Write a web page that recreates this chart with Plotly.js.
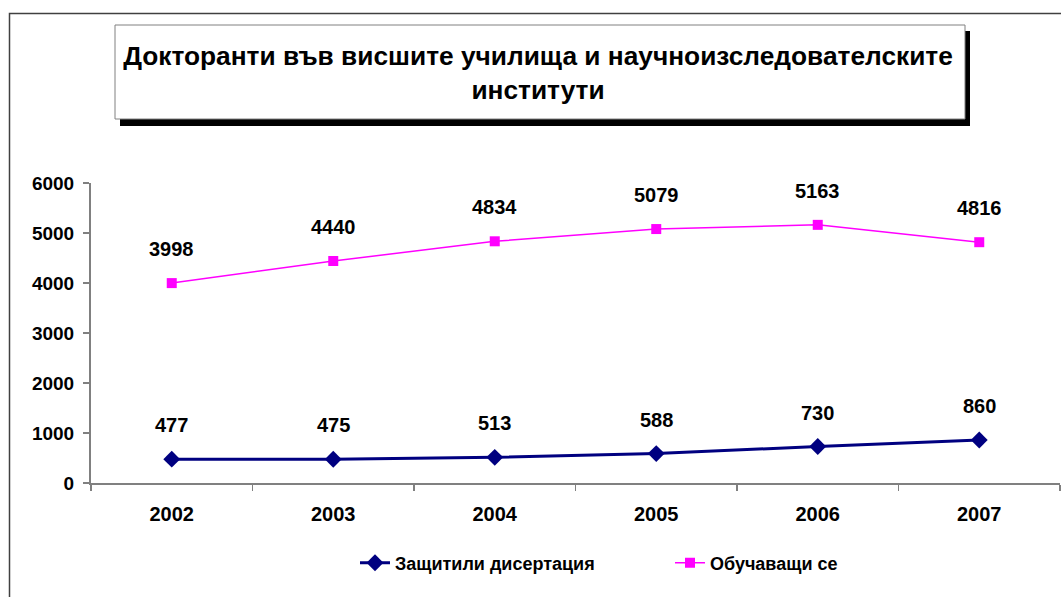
<!DOCTYPE html>
<html>
<head>
<meta charset="utf-8">
<script src="https://cdn.plot.ly/plotly-3.0.1.min.js"></script>
<style>html,body{margin:0;padding:0;background:#fff;}#chart{width:1061px;height:597px;}</style>
</head>
<body>
<div id="chart"></div>
<script>
const years = ['2002', '2003', '2004', '2005', '2006', '2007'];
const defended = [477, 475, 513, 588, 730, 860];
const studying = [3998, 4440, 4834, 5079, 5163, 4816];
const seriesNames = ['Защитили дисертация', 'Обучаващи се'];
const titleText = 'Докторанти във висшите училища и научноизследователските<br>институти';

const FONT = 'Liberation Sans, Arial, sans-serif';

const traces = [
  {
    x: years, y: defended, name: seriesNames[0], type: 'scatter', mode: 'lines+markers',
    line: {color: '#000080', width: 3},
    marker: {symbol: 'diamond', size: 13, color: '#000080'}
  },
  {
    x: years, y: studying, name: seriesNames[1], type: 'scatter', mode: 'lines+markers',
    line: {color: '#FF00FF', width: 1.5},
    marker: {symbol: 'square', size: 10, color: '#FF00FF'}
  }
];

const annotations = [];
[defended, studying].forEach(function (vals) {
  vals.forEach(function (v, i) {
    annotations.push({
      x: i, y: v, xref: 'x', yref: 'y', text: String(v), showarrow: false,
      yshift: 34, yanchor: 'middle', xanchor: 'center',
      font: {family: FONT, size: 20, color: '#000', weight: 'bold'}
    });
  });
});

const layout = {
  width: 1061, height: 597,
  margin: {l: 91, r: 1, t: 183, b: 114},
  paper_bgcolor: '#fff', plot_bgcolor: 'rgba(0,0,0,0)',
  font: {family: FONT, color: '#000'},
  title: {
    text: titleText, xref: 'container', yref: 'container',
    x: 538 / 1061, xanchor: 'center', y: 1 - 65 / 597, yanchor: 'top',
    font: {family: FONT, size: 26.3, color: '#000', weight: 'bold'}
  },
  xaxis: {
    type: 'category', range: [-0.5, 5.5], showline: true, linecolor: '#808080', linewidth: 2,
    ticks: 'outside', tickson: 'boundaries', ticklen: 6, tickcolor: '#808080', tickwidth: 1.5,
    showgrid: false, zeroline: false, ticklabelstandoff: 12,
    tickfont: {family: FONT, size: 20, color: '#000', weight: 'bold'}
  },
  yaxis: {
    range: [0, 6000], dtick: 1000, tick0: 0, showline: true, linecolor: '#808080', linewidth: 2,
    ticks: 'outside', ticklen: 6, tickcolor: '#808080', tickwidth: 1.5,
    showgrid: false, zeroline: false, ticklabelstandoff: 5,
    tickfont: {family: FONT, size: 19, color: '#000', weight: 'bold'}
  },
  showlegend: true,
  legend: {
    orientation: 'h', x: (355 - 91) / 969, xanchor: 'left', y: -(563 - 483) / 300, yanchor: 'middle',
    font: {family: FONT, size: 18, color: '#000', weight: 'bold'},
    bgcolor: 'rgba(0,0,0,0)', entrywidth: 270, entrywidthmode: 'pixels'
  },
  annotations: annotations,
  shapes: [
    {type: 'rect', xref: 'paper', yref: 'paper',
      x0: (9.5 - 91) / 969, x1: 1.2, y0: -0.6, y1: (483 - 13.5) / 300,
      line: {color: '#404040', width: 1.5}, fillcolor: 'rgba(0,0,0,0)', layer: 'below'},
    {type: 'rect', xref: 'paper', yref: 'paper',
      x0: (120 - 91) / 969, x1: (970 - 91) / 969, y0: (483 - 126) / 300, y1: (483 - 31) / 300,
      line: {width: 0}, fillcolor: '#000', layer: 'below'},
    {type: 'rect', xref: 'paper', yref: 'paper',
      x0: (115 - 91) / 969, x1: (965 - 91) / 969, y0: (483 - 119) / 300, y1: (483 - 25) / 300,
      line: {color: '#808080', width: 1}, fillcolor: '#fff', layer: 'below'}
  ]
};

Plotly.newPlot('chart', traces, layout, {displayModeBar: false, staticPlot: true});
</script>
</body>
</html>
